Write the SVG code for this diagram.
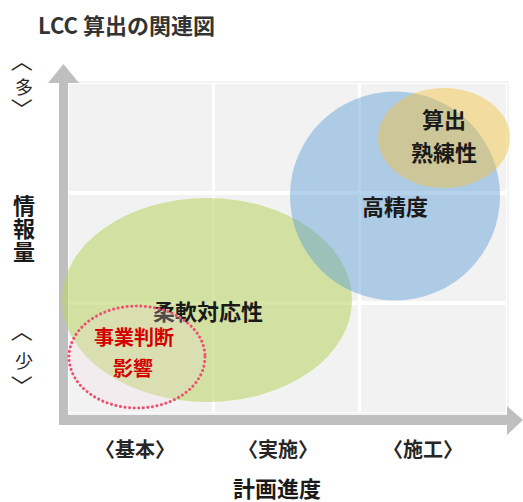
<svg xmlns="http://www.w3.org/2000/svg" width="523" height="502" viewBox="0 0 523 502">
<style>
text{font-family:"Noto Sans CJK JP","Noto Sans",sans-serif;font-weight:700;fill:#1a1a1a}
.cell{fill:#f2f2f2}
.axis{fill:#bfbfbf}
.t{font-size:22px;text-anchor:middle}
.red{font-size:20px;text-anchor:middle;fill:#d40000}
.lab{font-size:20px;text-anchor:middle;fill:#262626}
.side{font-size:18px;text-anchor:middle;fill:#262626;font-weight:400}
.br{font-size:22px;text-anchor:middle;dominant-baseline:central;fill:#262626;font-weight:400}
</style>
<rect width="523" height="502" fill="#fff"/>
<text x="38" y="34" style="font-size:22px;fill:#333">LCC 算出の関連図</text>
<g id="grid">
<rect x="67" y="82" width="441" height="332" fill="#fff" stroke="#e8e8e8" stroke-width="1"/>
<rect class="cell" x="69" y="84" width="143" height="107"/>
<rect class="cell" x="215" y="84" width="143" height="107"/>
<rect class="cell" x="361" y="84" width="145" height="107"/>
<rect class="cell" x="69" y="195" width="143" height="106"/>
<rect class="cell" x="215" y="195" width="143" height="106"/>
<rect class="cell" x="361" y="195" width="145" height="106"/>
<rect class="cell" x="69" y="305" width="143" height="107"/>
<rect class="cell" x="215" y="305" width="143" height="107"/>
<rect class="cell" x="361" y="305" width="145" height="107"/>
</g>
<g id="axes">
<rect class="axis" x="59" y="82" width="9" height="343"/>
<polygon class="axis" points="48,83 63.5,64 79,83"/>
<rect class="axis" x="59" y="415" width="449" height="10"/>
<polygon class="axis" points="507,406 523,420 507,435"/>
</g>
<g id="yaxis-labels">
<text class="br" transform="translate(24,61) rotate(90)">〈</text>
<text class="side" x="24" y="94">多</text>
<text class="br" transform="translate(24,109) rotate(90)">〉</text>
<text x="24" y="195" style="font-size:22px;writing-mode:vertical-rl;letter-spacing:1px">情報量</text>
<text class="br" transform="translate(24,331) rotate(90)">〈</text>
<text class="side" x="24" y="368">少</text>
<text class="br" transform="translate(24,386) rotate(90)">〉</text>
</g>
<g id="node-flex">
<ellipse cx="207" cy="300" rx="145" ry="102" fill="#bcd66a" opacity="0.6"/>
</g>
<g id="node-precision">
<ellipse cx="395" cy="196" rx="105" ry="104.5" fill="#5b9bd5" opacity="0.45"/>
<text class="t" x="395" y="215">高精度</text>
</g>
<g id="node-skill">
<ellipse cx="444" cy="138" rx="66" ry="50" fill="#f5c03a" opacity="0.45"/>
<text class="t" x="444" y="128">算出</text>
<text class="t" x="444" y="161">熟練性</text>
</g>
<g id="node-flex-label">
<text class="t" x="208" y="320">柔軟対応性</text>
</g>
<g id="node-business">
<ellipse cx="137" cy="357" rx="68" ry="51" fill="#f4dce6" fill-opacity="0.25" stroke="#ef4f6f" stroke-width="3" stroke-dasharray="0.1 4.5" stroke-linecap="round"/>
<text class="red" x="134" y="345">事業判断</text>
<text class="red" x="133" y="376">影響</text>
</g>
<g id="xaxis-labels">
<text class="lab" x="135" y="457">〈基本〉</text>
<text class="lab" x="278" y="457">〈実施〉</text>
<text class="lab" x="423" y="457">〈施工〉</text>
<text x="277" y="497" style="font-size:22px;text-anchor:middle">計画進度</text>
</g>
</svg>
